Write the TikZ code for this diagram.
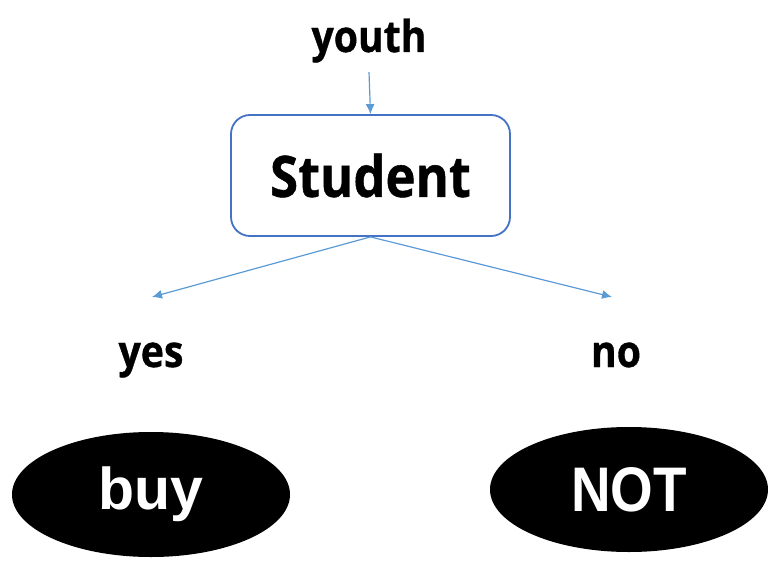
\documentclass[tikz,border=0pt]{standalone}
\usepackage{fontspec}
\setmainfont{Open Sans}
\newfontfamily\labelfont{Open Sans}[FakeStretch=0.89, BoldFeatures={FakeBold=0.8}]
\newfontfamily\leaffont{Liberation Sans}
\usetikzlibrary{shapes.geometric,arrows.meta}

\definecolor{boxblue}{HTML}{4472C4}
\definecolor{arrowblue}{HTML}{5B9BD5}

\begin{document}
\begin{tikzpicture}[x=1pt,y=-1pt,
    label/.style={font=\labelfont\fontsize{44}{46}\selectfont\bfseries, anchor=base, inner sep=0pt},
    testbox/.style={draw=boxblue, line width=1.8pt, rounded corners=19pt, fill=white,
        minimum width=279pt, minimum height=121pt,
        font=\labelfont\fontsize{57}{60}\selectfont\bfseries},
    leaf/.style={ellipse, fill=black, text=white, inner sep=0pt,
        minimum width=278pt, minimum height=125pt,
        font=\leaffont\bfseries},
    branch/.style={draw=arrowblue, line width=1.2pt, -{Latex[length=10pt,width=9pt]}}]
            \useasboundingbox (0,0) rectangle (770,577);

            % Attribute value on top
            \node[label] (youth) at (369,52) {youth};
            \coordinate (youthend) at (369,72);

            % Test node
            \node[testbox] (student) at (370.5,175.5) {Student};

            % Branch labels
            \node[label] (yes) at (151,367) {yes};
            \node[label] (no) at (616,367) {no};
            \coordinate (yesend) at (152,297);
            \coordinate (noend) at (612,297);

            % Leaves
            \node[leaf] (buy) at (151,494.5) {\fontsize{59}{60}\selectfont\raisebox{-5pt}{buy}};
            \node[leaf] (not) at (629,489.5) {\fontsize{63}{64}\selectfont\raisebox{-3pt}{\scalebox{0.87}[1]{NOT}}};

            % Arrows
            \draw[branch] (youthend) -- (student.north);
            \draw[branch] (student.south) -- (yesend);
            \draw[branch] (student.south) -- (noend);
        \end{tikzpicture}
\end{document}
